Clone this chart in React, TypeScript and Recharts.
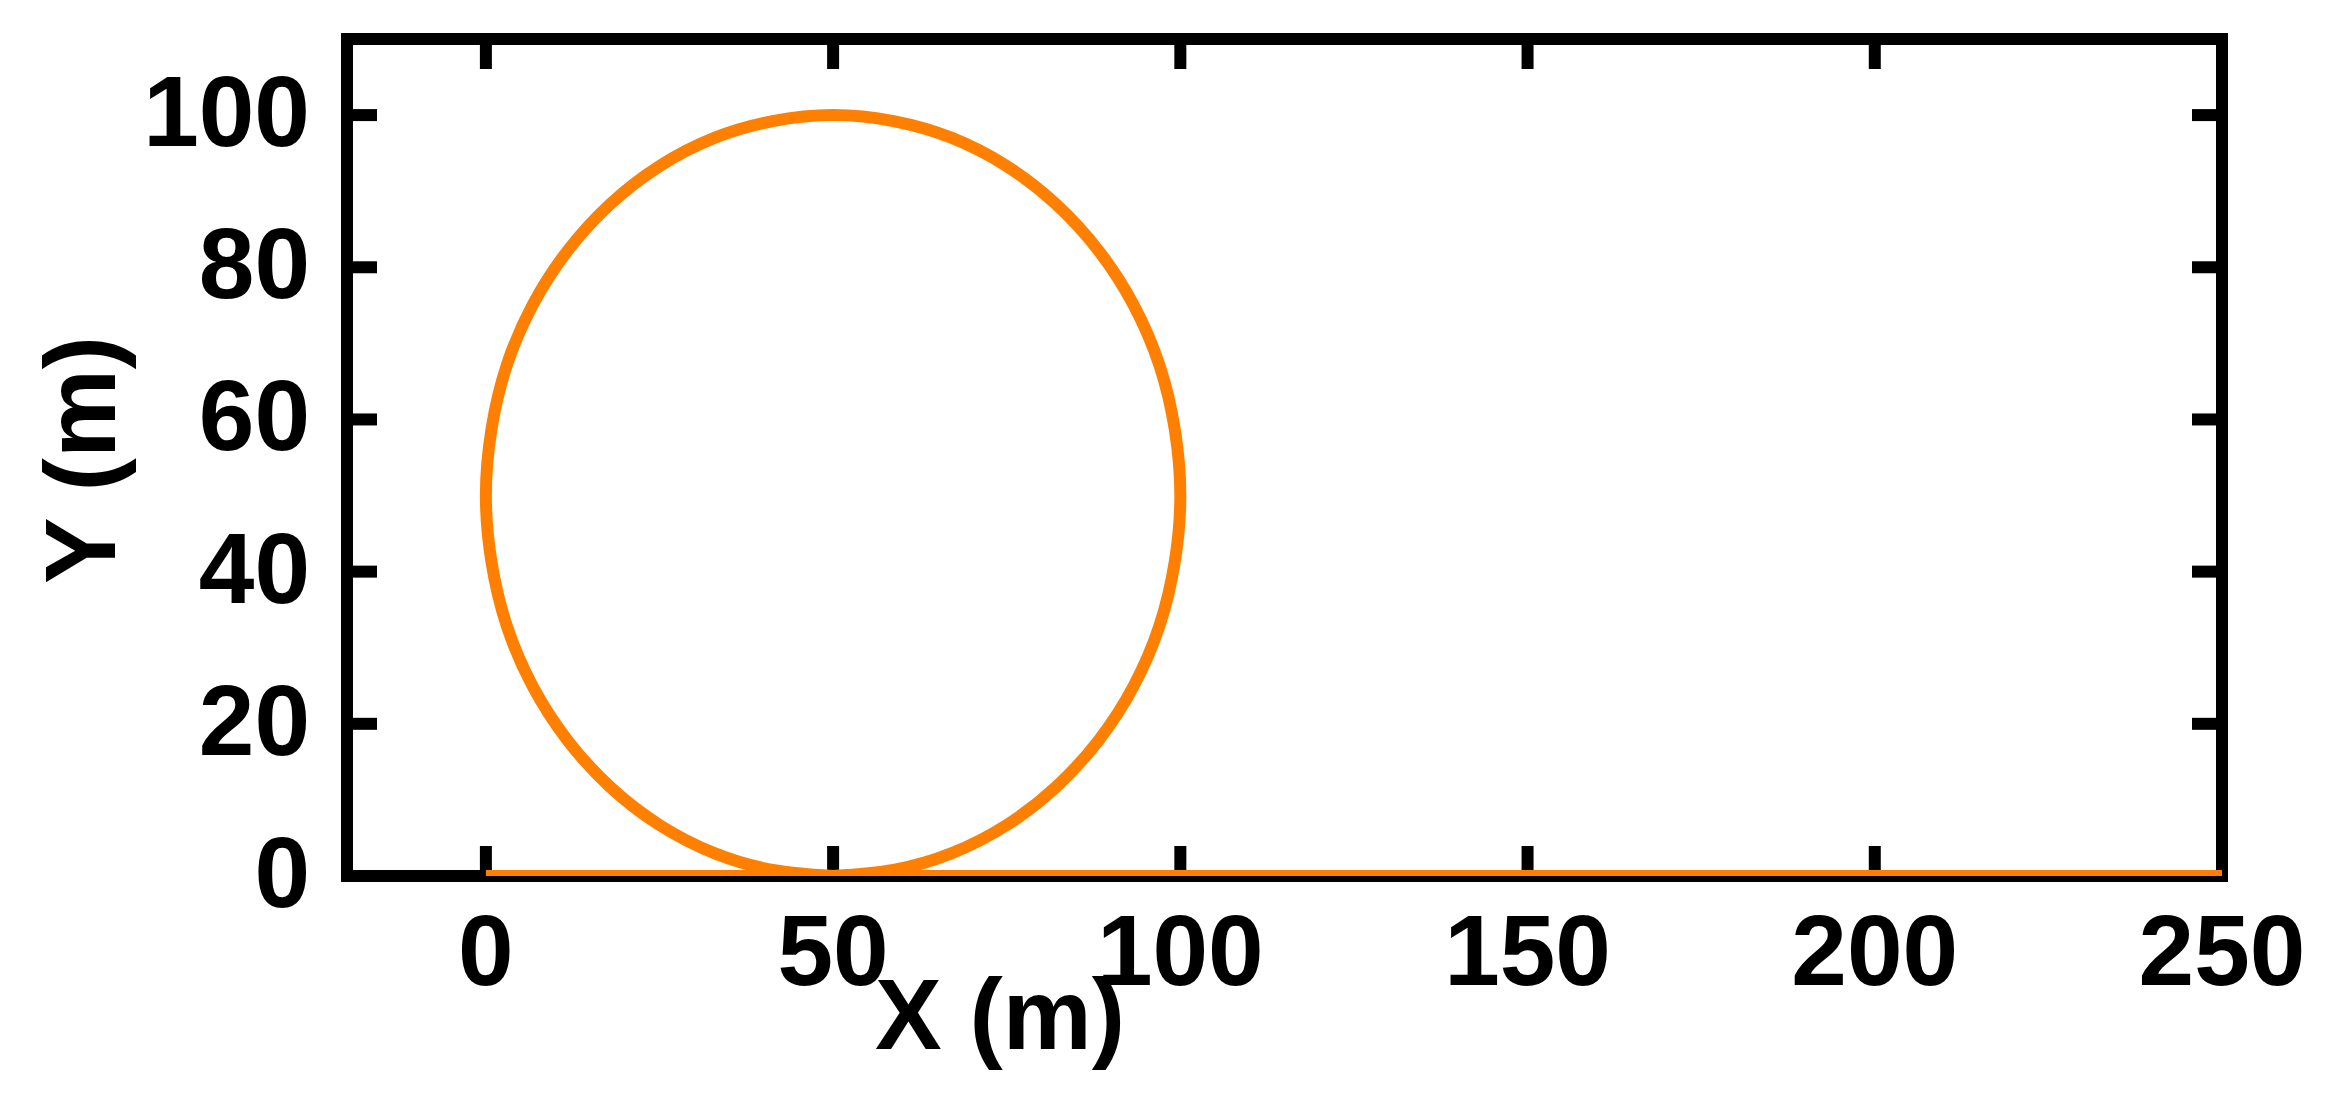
import { ComposedChart, Line, XAxis, YAxis } from "recharts";

// axis ticks
const xTicks = [0, 50, 100, 150, 200, 250];
const yTicks = [0, 20, 40, 60, 80, 100];

// straight run along the ground (before and after the loop)
const groundX = [0, 50, 250];
const groundY = [0, 0, 0];

// the loop, read counter-clockwise starting at the bottom touch point
const loopX = [
  50, 58.7, 67.1, 75, 82.1, 88.3, 93.3, 97, 99.2, 100, 99.2, 97, 93.3, 88.3, 82.1, 75, 67.1, 58.7, 50,
  41.3, 32.9, 25, 17.9, 11.7, 6.7, 3, 0.8, 0, 0.8, 3, 6.7, 11.7, 17.9, 25, 32.9, 41.3, 50,
];
const loopY = [
  0, 0.8, 3, 6.7, 11.7, 17.9, 25, 32.9, 41.3, 50, 58.7, 67.1, 75, 82.1, 88.3, 93.3, 97, 99.2, 100,
  99.2, 97, 93.3, 88.3, 82.1, 75, 67.1, 58.7, 50, 41.3, 32.9, 25, 17.9, 11.7, 6.7, 3, 0.8, 0,
];

const groundData = groundX.map((x, i) => ({ x, y: groundY[i] }));
const loopData = loopX.map((x, i) => ({ x, y: loopY[i] }));

const W = 2348;
const H = 1111;
const FONT = "'Liberation Sans', Arial, Helvetica, sans-serif";
const ORANGE = "#ff8000";
const TICK = 30; // inward tick length

const frame = { stroke: "#000", strokeWidth: 12, strokeLinecap: "square" as const };

function BottomTick(p: any) {
  return (
    <g>
      <line x1={p.x} x2={p.x} y1={p.y} y2={p.y - TICK} stroke="#000" strokeWidth={12} />
      <text x={p.x} y={p.y + 109} textAnchor="middle" fontSize={100} fontWeight="bold" fontFamily={FONT} fill="#000">
        {p.payload.value}
      </text>
    </g>
  );
}

function LeftTick(p: any) {
  return (
    <g>
      <line x1={p.x} x2={p.x + TICK} y1={p.y} y2={p.y} stroke="#000" strokeWidth={12} />
      <text x={p.x - 37} y={p.y + 31} textAnchor="end" fontSize={100} fontWeight="bold" fontFamily={FONT} fill="#000">
        {p.payload.value}
      </text>
    </g>
  );
}

function TopTick(p: any) {
  return <line x1={p.x} x2={p.x} y1={p.y} y2={p.y + TICK} stroke="#000" strokeWidth={12} />;
}

function RightTick(p: any) {
  return <line x1={p.x} x2={p.x - TICK} y1={p.y} y2={p.y} stroke="#000" strokeWidth={12} />;
}

export default function App() {
  return (
    <div style={{ position: "absolute", left: 0, top: 0, width: W, height: H, background: "#fff" }}>
      <ComposedChart width={W} height={H} margin={{ top: 38, right: 125, bottom: 0, left: 0 }}>
        <XAxis
          xAxisId="bottom"
          dataKey="x"
          type="number"
          domain={[-20, 250]}
          allowDataOverflow
          ticks={xTicks}
          height={235}
          tickSize={0}
          tickMargin={0}
          tickLine={false}
          axisLine={frame}
          tick={BottomTick}
          label={() => (
            <text x={1000} y={1049} textAnchor="middle" fontSize={100} fontWeight="bold" fontFamily={FONT} fill="#000">
              X (m)
            </text>
          )}
        />
        <XAxis
          xAxisId="top"
          orientation="top"
          dataKey="x"
          type="number"
          domain={[-20, 250]}
          allowDataOverflow
          ticks={xTicks}
          height={1}
          tickSize={0}
          tickMargin={0}
          tickLine={false}
          axisLine={frame}
          tick={TopTick}
        />
        <YAxis
          yAxisId="left"
          dataKey="y"
          type="number"
          domain={[0, 110]}
          allowDataOverflow
          ticks={yTicks}
          width={347}
          tickSize={0}
          tickMargin={0}
          tickLine={false}
          axisLine={frame}
          tick={LeftTick}
          label={() => (
            <text
              x={115}
              y={460}
              transform="rotate(-90 115 460)"
              textAnchor="middle"
              fontSize={100}
              fontWeight="bold"
              fontFamily={FONT}
              fill="#000"
            >
              Y (m)
            </text>
          )}
        />
        <YAxis
          yAxisId="right"
          orientation="right"
          dataKey="y"
          type="number"
          domain={[0, 110]}
          allowDataOverflow
          ticks={yTicks}
          width={1}
          tickSize={0}
          tickMargin={0}
          tickLine={false}
          axisLine={frame}
          tick={RightTick}
        />
        <Line
          data={loopData}
          xAxisId="bottom"
          yAxisId="left"
          dataKey="y"
          type="natural"
          stroke={ORANGE}
          strokeWidth={12}
          dot={false}
          zIndex={3000}
          isAnimationActive={false}
        />
        <Line
          data={groundData}
          xAxisId="top"
          yAxisId="right"
          dataKey="y"
          type="linear"
          stroke={ORANGE}
          strokeWidth={12}
          dot={false}
          zIndex={3000}
          isAnimationActive={false}
        />
      </ComposedChart>
    </div>
  );
}
